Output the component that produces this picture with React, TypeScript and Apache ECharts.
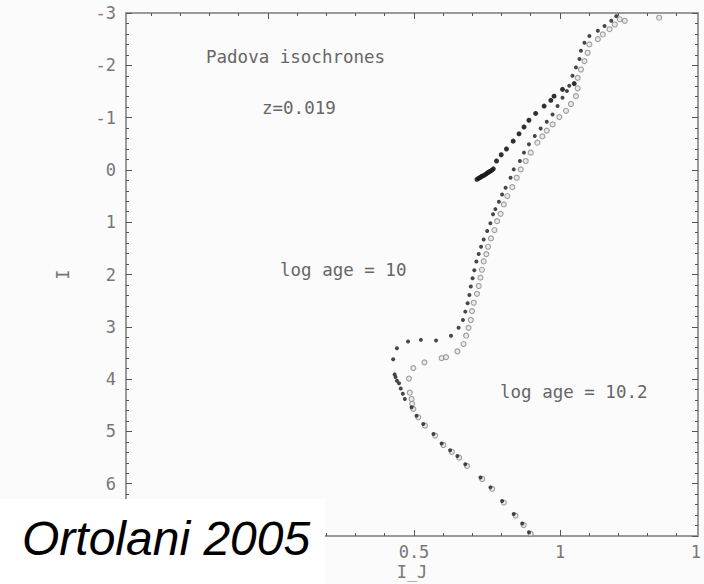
import React, { useEffect, useRef } from "react";
import * as echarts from "echarts";

// log age = 10 isochrone (darker points): [I-J, I]
const ISO_10: [number, number][] = [
  [0.894, 6.93], [0.871, 6.76], [0.842, 6.58], [0.802, 6.33], [0.762, 6.07], [0.728, 5.88],
  [0.676, 5.63], [0.649, 5.47], [0.624, 5.36], [0.595, 5.23], [0.567, 5.05], [0.532, 4.86],
  [0.509, 4.70], [0.492, 4.54], [0.469, 4.38], [0.462, 4.28], [0.455, 4.18], [0.449, 4.08],
  [0.442, 4.03], [0.437, 3.96], [0.434, 3.91], [0.429, 3.62], [0.442, 3.41], [0.480, 3.28],
  [0.524, 3.25], [0.576, 3.26], [0.627, 3.17], [0.653, 3.02], [0.668, 2.87], [0.676, 2.71],
  [0.684, 2.55], [0.690, 2.39], [0.695, 2.23], [0.701, 2.07], [0.707, 1.92], [0.714, 1.75],
  [0.722, 1.61], [0.730, 1.47], [0.739, 1.33], [0.751, 1.17], [0.762, 1.02], [0.771, 0.85],
  [0.779, 0.75], [0.791, 0.61], [0.802, 0.47], [0.814, 0.34], [0.831, 0.15], [0.842, -0.01],
  [0.863, -0.17], [0.877, -0.33], [0.894, -0.49], [0.914, -0.65], [0.934, -0.79], [0.955, -0.92],
  [0.975, -1.06], [0.992, -1.22], [1.009, -1.38], [1.024, -1.51], [1.032, -1.61], [1.043, -1.80],
  [1.055, -1.96], [1.067, -2.12], [1.072, -2.28], [1.084, -2.43], [1.101, -2.56], [1.130, -2.66],
  [1.153, -2.75], [1.176, -2.85], [1.193, -2.94],
];

// red clump and AGB of the log age = 10 isochrone
const CLUMP_10: [number, number][] = [
  [0.716, 0.18], [0.722, 0.16], [0.728, 0.14], [0.733, 0.12], [0.738, 0.11], [0.744, 0.09],
  [0.749, 0.07], [0.754, 0.05], [0.760, 0.03], [0.766, 0.01], [0.772, -0.02], [0.783, -0.17],
  [0.799, -0.29], [0.817, -0.40], [0.840, -0.55], [0.860, -0.69], [0.877, -0.82], [0.894, -0.95],
  [0.917, -1.08], [0.946, -1.22], [0.969, -1.33], [0.980, -1.41], [1.009, -1.54], [1.049, -1.65],
];

// log age = 10.2 isochrone (lighter points)
const ISO_102: [number, number][] = [
  [0.900, 6.96], [0.876, 6.79], [0.848, 6.61], [0.808, 6.36], [0.768, 6.10], [0.734, 5.91],
  [0.682, 5.66], [0.655, 5.50], [0.630, 5.39], [0.601, 5.26], [0.573, 5.08], [0.538, 4.89],
  [0.515, 4.73], [0.498, 4.57], [0.494, 4.47], [0.492, 4.38], [0.486, 4.26], [0.483, 3.99],
  [0.498, 3.79], [0.536, 3.68], [0.595, 3.60], [0.610, 3.58], [0.649, 3.47], [0.670, 3.33],
  [0.679, 3.17], [0.687, 3.02], [0.695, 2.87], [0.699, 2.70], [0.705, 2.54], [0.716, 2.37],
  [0.722, 2.22], [0.728, 2.06], [0.733, 1.91], [0.739, 1.75], [0.748, 1.61], [0.754, 1.47],
  [0.764, 1.31], [0.776, 1.15], [0.785, 0.98], [0.797, 0.84], [0.808, 0.66], [0.820, 0.50],
  [0.837, 0.33], [0.852, 0.15], [0.866, -0.01], [0.883, -0.17], [0.900, -0.33], [0.923, -0.52],
  [0.940, -0.64], [0.955, -0.75], [0.975, -0.87], [0.998, -1.01], [1.021, -1.13], [1.038, -1.26],
  [1.055, -1.41], [1.061, -1.56], [1.061, -1.76], [1.072, -1.92], [1.084, -2.08], [1.095, -2.24],
  [1.101, -2.40], [1.130, -2.50], [1.147, -2.59], [1.170, -2.69], [1.188, -2.78], [1.205, -2.88],
  [1.222, -2.85], [1.340, -2.91],
];

const X_MAJOR_TICKS = [0, 0.5, 1];
const X_MINOR_TICKS = [-0.4, -0.3, -0.2, -0.1, 0.1, 0.2, 0.3, 0.4, 0.6, 0.7, 0.8, 0.9, 1.1, 1.2, 1.3, 1.4];
const X_TICK_LABELS = [0.5, 1, 1.5];
const X_LABEL_MIN = -0.5;
const X_LABEL_MAX = 1.5;
const Y_MIN = -3;
const Y_MAX = 7;
const Y_TICK_LABELS = [-3, -2, -1, 0, 1, 2, 3, 4, 5, 6];

const ANNOTATIONS = [
  { text: "Padova isochrones", x: 206, y: 57 },
  { text: "z=0.019", x: 262, y: 108 },
  { text: "log age = 10", x: 280, y: 270 },
  { text: "log age = 10.2", x: 500, y: 392 },
];

const MONO = '"DejaVu Sans Mono", "Liberation Mono", monospace';
const AXIS_LINE = { show: true, onZero: false, lineStyle: { color: "#9a9a9a", width: 2 } };
const NO_LINE = { show: false, onZero: false };

export default function App() {
  const ref = useRef<HTMLDivElement>(null);
  useEffect(() => {
    if (!ref.current) return;
    const chart = echarts.init(ref.current, null, { renderer: "svg" });
    const tickStyle = { color: "#555", width: 1 };
    const option: any = {
      animation: false,
      backgroundColor: "#fbfbfb",
      grid: [
        { left: 126, right: 6, top: 13, bottom: 48, outerBoundsMode: "none", containLabel: false },
        { left: 122, width: 584, top: 13, bottom: 48, outerBoundsMode: "none", containLabel: false },
      ],
      xAxis: [
        {
          gridIndex: 0, type: "value", position: "bottom", min: -0.486, max: 1.473,
          axisLine: AXIS_LINE,
          axisTick: { show: true, inside: true, length: 6, customValues: X_MAJOR_TICKS, lineStyle: tickStyle },
          axisLabel: { show: false }, splitLine: { show: false },
          name: "I_J", nameLocation: "middle", nameGap: 27,
          nameTextStyle: { fontFamily: MONO, fontSize: 17, color: "#777" },
        },
        {
          gridIndex: 0, type: "value", position: "bottom", min: -0.486, max: 1.473,
          axisLine: NO_LINE,
          axisTick: { show: true, inside: true, length: 3, customValues: X_MINOR_TICKS, lineStyle: tickStyle },
          axisLabel: { show: false }, splitLine: { show: false },
        },
        {
          gridIndex: 0, type: "value", position: "top", min: -0.486, max: 1.473,
          axisLine: AXIS_LINE,
          axisTick: { show: true, inside: true, length: 6, customValues: X_MAJOR_TICKS, lineStyle: tickStyle },
          axisLabel: { show: false }, splitLine: { show: false },
        },
        {
          gridIndex: 0, type: "value", position: "top", min: -0.486, max: 1.473,
          axisLine: NO_LINE,
          axisTick: { show: true, inside: true, length: 3, customValues: X_MINOR_TICKS, lineStyle: tickStyle },
          axisLabel: { show: false }, splitLine: { show: false },
        },
        {
          gridIndex: 1, type: "value", position: "bottom", min: X_LABEL_MIN, max: X_LABEL_MAX, interval: 0.5,
          axisLine: NO_LINE, axisTick: { show: false }, splitLine: { show: false },
          axisLabel: {
            show: true, margin: 7, fontFamily: MONO, fontSize: 17, color: "#777",
            customValues: X_TICK_LABELS, hideOverlap: false,
          },
        },
      ],
      yAxis: [
        {
          gridIndex: 0, type: "value", position: "left", inverse: true, min: Y_MIN, max: Y_MAX, interval: 1,
          axisLine: AXIS_LINE,
          axisTick: { show: true, inside: true, length: 6, lineStyle: tickStyle },
          minorTick: { show: true, splitNumber: 5, length: 3, lineStyle: tickStyle },
          axisLabel: {
            show: true, margin: 10, fontFamily: MONO, fontSize: 17, color: "#777",
            customValues: Y_TICK_LABELS,
          },
          splitLine: { show: false },
          name: "I", nameLocation: "middle", nameGap: 55,
          nameTextStyle: { fontFamily: MONO, fontSize: 17, color: "#777" },
        },
        {
          gridIndex: 0, type: "value", position: "right", inverse: true, min: Y_MIN, max: Y_MAX, interval: 1,
          axisLine: AXIS_LINE,
          axisTick: { show: true, inside: true, length: 6, lineStyle: tickStyle },
          minorTick: { show: true, splitNumber: 5, length: 3, lineStyle: tickStyle },
          axisLabel: { show: false }, splitLine: { show: false },
        },
        {
          gridIndex: 1, type: "value", inverse: true, min: Y_MIN, max: Y_MAX, show: false,
          axisLine: NO_LINE,
        },
      ],
      series: [
        {
          name: "log age = 10.2", type: "scatter", xAxisIndex: 0, yAxisIndex: 0,
          data: ISO_102, symbol: "circle", symbolSize: 5,
          itemStyle: { color: "#e6e6e6", borderColor: "#888", borderWidth: 1.1 },
        },
        {
          name: "log age = 10", type: "scatter", xAxisIndex: 0, yAxisIndex: 0,
          data: ISO_10, symbol: "circle", symbolSize: 4,
          itemStyle: { color: "#333", opacity: 0.9 },
        },
        {
          name: "clump", type: "scatter", xAxisIndex: 0, yAxisIndex: 0,
          data: CLUMP_10, symbol: "circle", symbolSize: 5,
          itemStyle: { color: "#1a1a1a", opacity: 0.9 },
        },
      ],
      graphic: [
        ...ANNOTATIONS.map((a) => ({
          type: "text", x: a.x, y: a.y, z: 50,
          style: { text: a.text, fill: "#666", font: `17.5px ${MONO}`, verticalAlign: "middle", align: "left" },
        })),
        {
          type: "rect", x: 0, y: 499, z: 100,
          shape: { width: 325, height: 85 },
          style: { fill: "#ffffff" },
        },
        {
          type: "text", x: 22, y: 538, z: 101,
          style: {
            text: "Ortolani 2005", fill: "#000",
            font: 'italic 48px "Liberation Sans", Arial, sans-serif',
            verticalAlign: "middle", align: "left",
          },
        },
      ],
    };
    chart.setOption(option);
    return () => chart.dispose();
  }, []);
  return (
    <div
      ref={ref}
      style={{ position: "fixed", left: 0, top: 0, width: 704, height: 584 }}
    />
  );
}
